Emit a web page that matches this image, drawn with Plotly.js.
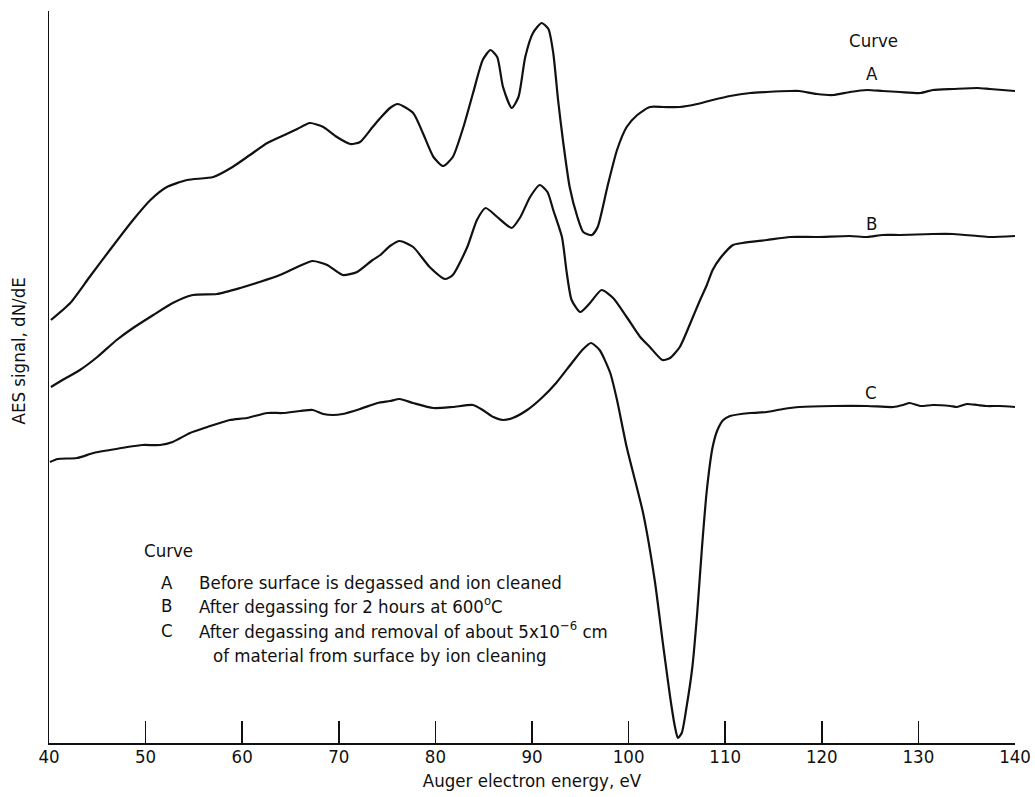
<!DOCTYPE html>
<html>
<head>
<meta charset="utf-8">
<script src="https://cdn.plot.ly/plotly-3.0.1.min.js"></script>
<style>
  html, body { margin: 0; padding: 0; background: #fff; }
  #chart { width: 1035px; height: 797px; }
</style>
</head>
<body>
<div id="chart"></div>
<script>
// Auger electron energy, eV
const energyA = [40.2,42.2,44.2,46.3,48.7,50.5,52.2,54.3,57.0,59.0,60.8,62.6,64.6,65.7,67.0,68.4,69.8,71.2,72.2,73.5,74.3,75.3,76.1,77.7,78.7,79.8,80.8,81.8,82.9,83.9,84.9,85.7,86.4,87.0,87.9,88.6,89.3,90.1,91.0,91.7,92.2,92.7,93.2,93.9,94.7,95.3,96.2,96.8,97.8,98.8,99.8,100.9,102.2,103.6,105.3,107.1,108.7,110.5,112.6,114.3,116.7,117.7,119.5,121.2,122.9,124.7,126.3,128.1,130.2,131.5,133.6,136.1,137.4,140.0];
const signalA = [423,440,466,493,523,543,556,563,566,576,588,600,609,614,620,616,606,599,601,616,625,635,639,630,610,586,577,586,616,650,683,693,686,656,635,646,686,710,720,714,690,643,603,556,526,511,508,516,556,593,616,628,636,636,636,639,643,647,650,651,652,652,649,648,651,653,652,651,650,653,654,655,654,652];

const energyB = [40.2,41.4,43.2,45.0,47.0,48.7,50.8,52.8,54.9,57.4,59.8,61.8,63.9,65.7,67.3,68.8,70.4,71.9,73.5,74.3,75.3,76.3,77.7,79.4,81.0,81.8,83.3,84.3,85.2,86.4,87.9,88.8,89.8,90.8,91.6,92.2,93.1,93.6,94.1,95.0,96.0,97.2,98.4,99.8,101.2,102.2,103.5,104.3,105.3,106.4,107.4,108.1,108.7,109.5,110.8,111.8,114.3,116.7,119.5,122.9,124.7,126.3,128.1,131.5,133.6,136.1,137.4,140.0];
const signalB = [356,363,373,386,403,415,428,440,448,449,455,461,468,476,482,478,468,471,483,488,497,502,496,476,464,468,496,523,535,526,515,526,546,558,551,533,506,470,443,431,440,453,445,426,406,396,383,385,396,420,443,458,473,485,498,500,503,506,506,507,506,508,508,509,509,507,506,507];

const energyC = [40.1,40.9,42.9,44.6,46.3,48.1,49.7,51.5,52.8,54.6,56.4,58.7,60.5,62.6,64.2,66.0,67.3,68.4,69.4,70.4,72.2,74.0,75.3,76.3,77.7,79.8,81.8,83.9,84.9,86.0,87.0,88.0,89.5,91.0,92.5,94.2,95.3,96.1,97.0,98.1,98.8,99.8,101.5,102.7,103.6,104.3,104.8,105.1,105.5,106.0,106.6,107.1,107.6,108.1,108.7,109.2,109.8,110.5,112.6,114.3,116.0,117.7,121.2,124.7,127.4,128.4,129.1,130.2,131.5,133.3,134.0,135.0,136.1,137.1,138.4,140.0];
const signalC = [281,284,285,290,293,296,298,298,301,310,316,323,325,330,330,332,333,329,328,329,334,340,342,344,340,335,336,338,333,326,323,325,333,345,360,381,394,400,393,370,343,296,230,163,96,46,16,5,10,36,76,130,196,253,296,313,323,327,330,331,334,336,337,337,336,338,340,337,338,337,336,339,338,337,337,336];

const xTicks = [40,50,60,70,80,90,100,110,120,130,140];
const curveNames = ['A','B','C'];
const legendLines = [
  'Before surface is degassed and ion cleaned',
  'After degassing for 2 hours at 600<sup>o</sup>C',
  'After degassing and removal of about 5x10<sup>\u22126</sup> cm'
];
const legendCont = 'of material from surface by ion cleaning';

const FONT = 'DejaVu Sans Condensed, Liberation Sans, Arial, sans-serif';
const FS = 18.5;
const lineStyle = {color: '#111', width: 2.2, shape: 'spline', smoothing: 0.6};

const traces = [
  {x: energyA, y: signalA, name: 'A', mode: 'lines', line: lineStyle},
  {x: energyB, y: signalB, name: 'B', mode: 'lines', line: lineStyle},
  {x: energyC, y: signalC, name: 'C', mode: 'lines', line: lineStyle}
];

const ann = [];
const txt = (text, x, y, xanchor, extra) => Object.assign({
  text, x, y, xref: 'x', yref: 'y', xanchor: xanchor || 'center', yanchor: 'middle',
  showarrow: false, font: {family: FONT, size: FS, color: '#111'}
}, extra || {});

// right-side curve labels
ann.push(txt('Curve', 125.3, 703));
const labelPos = [[125.2, 670], [125.1, 520], [125.1, 351]];
curveNames.forEach((n, i) => ann.push(txt(n, labelPos[i][0], labelPos[i][1])));

// key block
ann.push(txt('Curve', 49.6, 193, 'left'));
const keyY = [161, 138, 113];
curveNames.forEach((n, i) => {
  ann.push(txt(n, 52.2, keyY[i]));
  ann.push(txt(legendLines[i], 55.3, keyY[i], 'left'));
});
ann.push(txt(legendCont, 56.8, 88, 'left'));

// y-axis title
ann.push({
  text: 'AES signal, dN/dE', xref: 'paper', yref: 'paper', x: -0.032, y: 0.535,
  xanchor: 'center', yanchor: 'middle', textangle: -90, showarrow: false,
  font: {family: FONT, size: FS, color: '#111'}
});

const layout = {
  width: 1035, height: 797,
  margin: {l: 49, r: 20, t: 11, b: 54},
  paper_bgcolor: '#fff', plot_bgcolor: '#fff',
  showlegend: false,
  font: {family: FONT, size: FS, color: '#111'},
  xaxis: {
    range: [40, 140], tickvals: xTicks, ticktext: xTicks.map(String),
    ticks: 'inside', ticklen: 22, tickwidth: 1.5, tickcolor: '#111',
    showline: true, linecolor: '#111', linewidth: 1.8,
    showgrid: false, zeroline: false, ticklabelstandoff: -4,
    tickfont: {family: FONT, size: FS, color: '#111'},
    title: {text: 'Auger electron energy, eV', font: {family: FONT, size: FS, color: '#111'}, standoff: 8}
  },
  yaxis: {
    range: [0, 732], showline: true, linecolor: '#111', linewidth: 1.5,
    showticklabels: false, ticks: '', showgrid: false, zeroline: false
  },
  annotations: ann
};

Plotly.newPlot('chart', traces, layout, {displayModeBar: false, staticPlot: true});
</script>
</body>
</html>
